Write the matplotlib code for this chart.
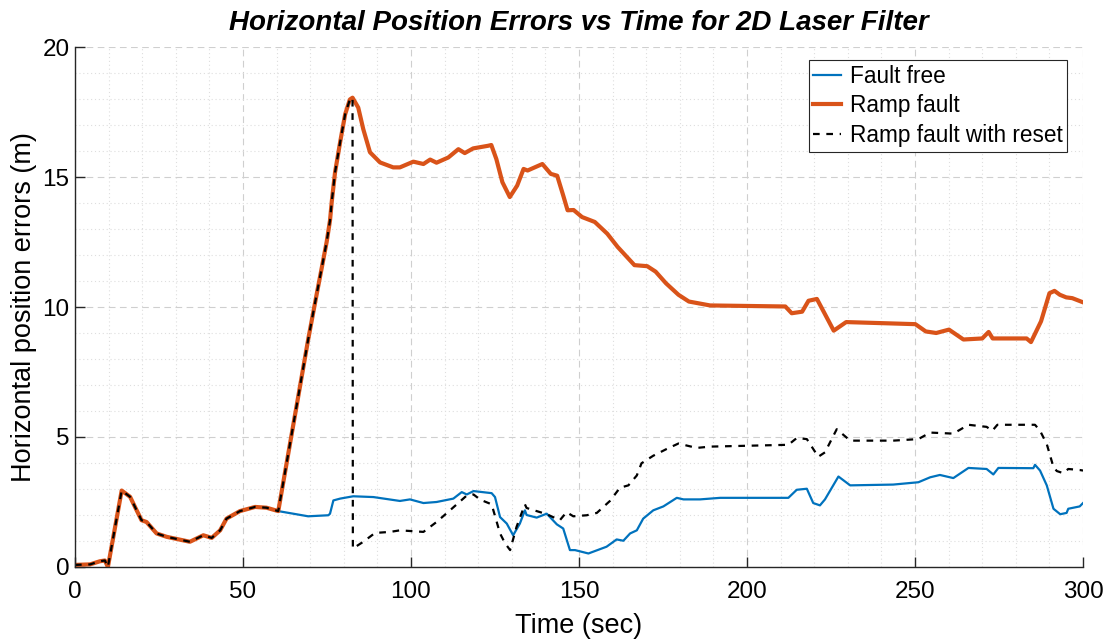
import numpy as np
import matplotlib
matplotlib.use("Agg")
import matplotlib.pyplot as plt
from matplotlib.ticker import MultipleLocator

plt.rcParams['font.family'] = ['Liberation Sans', 'DejaVu Sans']

# common part of all three runs (before the fault starts)
t_common = [0, 4.5, 7.4, 8.9, 9.8, 13.9, 16.4, 17.9, 19.8, 21.3, 24.3, 27.3,
            34.2, 38.2, 40.7, 43.2, 45.1, 49.1, 53.6, 57.0, 60.5]
y_common = [0.08, 0.1, 0.22, 0.25, 0.0, 2.94, 2.7, 2.3, 1.8, 1.73, 1.29, 1.16,
            0.97, 1.22, 1.12, 1.41, 1.86, 2.15, 2.31, 2.28, 2.15]

# fault free after 60.5 s
t_free = [69.4, 75.4, 75.9, 76.9, 78.9, 82.8, 88.8, 96.7, 99.7, 103.7, 107.6,
          112.6, 115.1, 116.6, 118.6, 124.0, 125.0, 126.5, 128.5, 130.4, 132.4,
          133.9, 134.4, 137.4, 140.4, 143.4, 145.3, 147.3, 148.8, 152.8, 158.2,
          161.2, 163.2, 165.2, 167.2, 169.1, 172.1, 175.1, 179.1, 181.1, 186.0,
          192.0, 200.9, 212.3, 214.8, 217.8, 219.7, 221.7, 223.2, 227.2, 230.7,
          243.5, 251.0, 254.5, 257.4, 261.4, 265.9, 271.3, 273.3, 274.8, 285.2,
          285.7, 287.2, 289.2, 291.2, 293.2, 295.1, 295.6, 299.0, 300.0]
y_free = [1.95, 1.99, 2.05, 2.56, 2.63, 2.72, 2.69, 2.54, 2.6, 2.46, 2.5,
          2.63, 2.88, 2.79, 2.92, 2.84, 2.69, 1.92, 1.67, 1.22, 1.67,
          2.18, 2.0, 1.9, 2.05, 1.64, 1.48, 0.65, 0.65, 0.52, 0.78,
          1.06, 1.01, 1.29, 1.41, 1.86, 2.18, 2.33, 2.66, 2.6, 2.6,
          2.66, 2.66, 2.66, 2.97, 3.01, 2.46, 2.37, 2.6, 3.48, 3.14,
          3.17, 3.26, 3.45, 3.54, 3.42, 3.81, 3.77, 3.56, 3.81, 3.80,
          3.93, 3.71, 3.14, 2.24, 2.03, 2.08, 2.24, 2.33, 2.46]

# ramp fault after 60.5 s
t_ramp = [69.4, 71.9, 73.4, 74.9, 75.9, 76.4, 77.4, 78.9, 80.4, 81.8, 82.6,
          84.3, 85.8, 87.8, 90.8, 94.7, 96.7, 100.7, 103.7, 105.7, 107.6,
          111.1, 114.1, 116.0, 118.5, 122.9, 123.9, 125.4, 127.2, 129.4, 131.6,
          133.5, 134.7, 139.1, 141.6, 143.5, 145.3, 146.6, 148.4, 150.9, 154.7,
          158.4, 161.5, 166.5, 170.3, 172.8, 175.9, 179.6, 182.7, 189.0, 211.4,
          213.3, 216.4, 218.3, 220.8, 225.8, 229.5, 250.1, 253.2, 256.3, 260.1,
          264.4, 270.0, 271.9, 273.1, 283.2, 284.5, 287.5, 290.0, 291.5, 293.1,
          295.0, 296.8, 300.0]
y_ramp = [8.75, 10.47, 11.48, 12.5, 13.33, 14.03, 15.18, 16.33, 17.41, 17.98, 18.05,
          17.67, 16.84, 15.95, 15.56, 15.37, 15.37, 15.59, 15.5, 15.67, 15.55,
          15.75, 16.07, 15.92, 16.1, 16.2, 16.23, 15.69, 14.8, 14.23, 14.67,
          15.31, 15.25, 15.5, 15.12, 15.05, 14.29, 13.72, 13.73, 13.46, 13.27,
          12.82, 12.31, 11.61, 11.57, 11.36, 10.91, 10.47, 10.21, 10.06, 10.02,
          9.76, 9.82, 10.24, 10.31, 9.09, 9.42, 9.34, 9.06, 9.0, 9.13,
          8.75, 8.79, 9.04, 8.79, 8.79, 8.65, 9.45, 10.53, 10.62, 10.47,
          10.37, 10.34, 10.18]

# ramp fault with reset: follows ramp fault until the reset time, then this
t_reset_at = 82.6
t_reset = [82.7, 85.8, 89.3, 93.8, 96.7, 103.7, 107.6, 111.6, 116.6, 118.6,
           120.6, 124.0, 126.5, 128.0, 129.5, 131.4, 133.9, 134.4, 140.4, 144.3,
           146.3, 148.3, 152.3, 155.3, 159.2, 162.2, 164.7, 167.2, 168.6, 172.1,
           176.1, 179.6, 182.1, 185.0, 189.0, 212.3, 214.8, 217.8, 219.7, 221.2,
           223.2, 226.7, 230.7, 243.5, 251.0, 254.5, 261.4, 265.9, 271.3, 273.0,
           274.5, 285.7, 287.2, 289.2, 291.2, 292.2, 294.1, 295.6, 299.0, 300.0]
y_reset = [0.71, 0.97, 1.31, 1.35, 1.41, 1.35, 1.73, 2.18, 2.75, 2.79,
           2.59, 2.41, 1.29, 0.91, 0.65, 1.54, 2.41, 2.27, 2.03, 1.8,
           2.11, 1.95, 1.99, 2.08, 2.54, 3.05, 3.14, 3.52, 3.99, 4.28,
           4.54, 4.75, 4.67, 4.58, 4.63, 4.70, 4.96, 4.92, 4.54, 4.24,
           4.41, 5.3, 4.86, 4.86, 4.92, 5.17, 5.13, 5.47, 5.39, 5.24,
           5.47, 5.47, 5.24, 4.73, 3.84, 3.69, 3.61, 3.77, 3.73, 3.71]

t_ff = np.array(t_common + t_free)
e_ff = np.array(y_common + y_free)
t_rf = np.array(t_common + t_ramp)
e_rf = np.array(y_common + y_ramp)
keep = t_rf <= t_reset_at
t_rr = np.concatenate([t_rf[keep], t_reset])
e_rr = np.concatenate([e_rf[keep], y_reset])

fig = plt.figure(figsize=(11.09, 6.43), dpi=100)
ax = fig.add_axes([0.0676, 0.1182, 0.9090, 0.8087])

ax.plot(t_ff, e_ff, color='#0072BD', lw=1.6, label='Fault free')
ax.plot(t_rf, e_rf, color='#D95319', lw=3.0, label='Ramp fault')
ax.plot(t_rr, e_rr, color='black', lw=1.6, ls=(0, (3, 3)), label='Ramp fault with reset')

ax.set_xlim(0, 300)
ax.set_ylim(0, 20)
ax.xaxis.set_major_locator(MultipleLocator(50))
ax.xaxis.set_minor_locator(MultipleLocator(10))
ax.yaxis.set_major_locator(MultipleLocator(5))
ax.yaxis.set_minor_locator(MultipleLocator(1))
ax.grid(True, which='major', color='#cfcfcf', ls=(0, (6, 4)), lw=0.8)
ax.grid(True, which='minor', color='#dedede', ls=(0, (1, 2.5)), lw=0.8)
ax.set_axisbelow(True)

for s in ['top', 'right']:
    ax.spines[s].set_visible(False)
for s in ['left', 'bottom']:
    ax.spines[s].set_color('#262626')
    ax.spines[s].set_linewidth(1.0)
ax.tick_params(which='major', direction='in', length=7, width=1.0, color='#262626',
               labelsize=17.5, labelcolor='black')
ax.tick_params(axis='x', which='major', pad=10)
ax.tick_params(axis='y', which='major', pad=4)
ax.tick_params(which='minor', length=0)

ax.set_xlabel('Time (sec)', fontsize=19.5)
ax.set_ylabel('Horizontal position errors (m)', fontsize=19.5)
ax.xaxis.set_label_coords(0.5, -0.088)
ax.yaxis.set_label_coords(-0.0377, 0.5)
ax.set_title('Horizontal Position Errors vs Time for 2D Laser Filter',
             fontsize=20, fontweight='bold', style='italic', pad=12)

leg = ax.legend(loc='upper right', bbox_to_anchor=(0.9621, 0.9067),
                bbox_transform=fig.transFigure, fontsize=16.3, frameon=True,
                fancybox=False, framealpha=1, edgecolor='#262626',
                handlelength=1.2, borderpad=0.2, borderaxespad=0,
                labelspacing=0.3, handletextpad=0.4)
leg.get_frame().set_linewidth(0.8)

fig.savefig('out.png', dpi=100)
